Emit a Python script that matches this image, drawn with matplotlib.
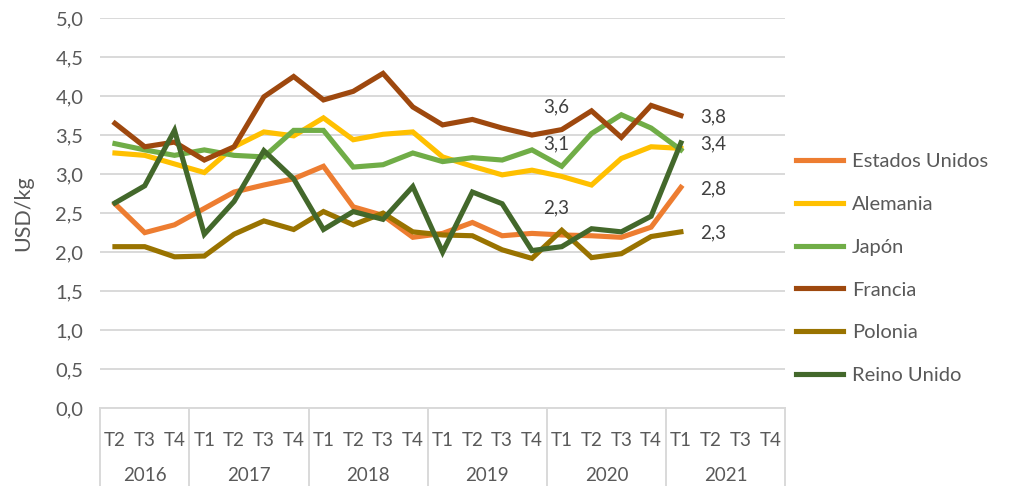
import matplotlib.pyplot as plt
from matplotlib.transforms import blended_transform_factory

plt.rcParams['font.family'] = ['Lato', 'DejaVu Sans']

years = ['2016', '2017', '2018', '2019', '2020', '2021']
quarters = ['T2', 'T3', 'T4'] + ['T1', 'T2', 'T3', 'T4'] * 5

estados_unidos = [2.62, 2.25, 2.35, 2.56, 2.77, 2.86, 2.94, 3.10, 2.58, 2.47, 2.19, 2.24,
                  2.38, 2.21, 2.24, 2.22, 2.21, 2.19, 2.32, 2.83]
alemania = [3.27, 3.24, 3.13, 3.02, 3.35, 3.54, 3.49, 3.72, 3.44, 3.51, 3.54, 3.22,
            3.10, 2.99, 3.05, 2.97, 2.86, 3.20, 3.35, 3.33]
japon = [3.39, 3.31, 3.24, 3.31, 3.24, 3.22, 3.56, 3.56, 3.09, 3.12, 3.27, 3.16,
         3.21, 3.18, 3.31, 3.10, 3.52, 3.76, 3.59, 3.31]
francia = [3.65, 3.35, 3.41, 3.18, 3.35, 3.99, 4.25, 3.95, 4.06, 4.29, 3.86, 3.63,
           3.70, 3.59, 3.50, 3.57, 3.81, 3.47, 3.88, 3.75]
polonia = [2.07, 2.07, 1.94, 1.95, 2.23, 2.40, 2.29, 2.52, 2.35, 2.50, 2.26, 2.22,
           2.21, 2.03, 1.92, 2.28, 1.93, 1.98, 2.20, 2.26]
reino_unido = [2.63, 2.85, 3.56, 2.23, 2.65, 3.30, 2.94, 2.29, 2.52, 2.42, 2.84, 2.00,
               2.77, 2.62, 2.02, 2.07, 2.30, 2.26, 2.46, 3.40]

series = [
    ('Estados Unidos', estados_unidos, '#ED7D31'),
    ('Alemania', alemania, '#FFC000'),
    ('Japón', japon, '#70AD47'),
    ('Francia', francia, '#9E480E'),
    ('Polonia', polonia, '#997300'),
    ('Reino Unido', reino_unido, '#43682B'),
]

gray = '#595959'
fig = plt.figure(figsize=(10.21, 4.86), dpi=100)
ax = fig.add_axes([0.098, 0.160, 0.671, 0.803])

x = list(range(len(estados_unidos)))
lines = {}
for name, vals, col in series:
    ax.plot(x, vals, color=col, lw=3.7, label=name, solid_joinstyle='miter')
    lines[name] = vals

ax.set_xlim(-0.5, len(quarters) - 0.5)
ax.set_ylim(0, 5)
ax.set_yticks([i * 0.5 for i in range(11)])
ax.set_yticklabels([f'{i * 0.5:.1f}'.replace('.', ',') for i in range(11)],
                   fontsize=14.5, color=gray)
ax.yaxis.grid(True, color='#D9D9D9', lw=1.4)
ax.set_axisbelow(True)
for s in ['top', 'right', 'left']:
    ax.spines[s].set_visible(False)
ax.spines['bottom'].set_color('#D9D9D9')
ax.spines['bottom'].set_linewidth(1.4)
ax.tick_params(axis='y', length=0, pad=12)
ax.tick_params(axis='x', length=0, pad=17)
ax.set_xticks(range(len(quarters)))
ax.set_xticklabels(quarters, fontsize=13.5, color=gray)
ax.set_ylabel('USD/kg', fontsize=15.5, color=gray, labelpad=16)

# year groups and separators
trans = blended_transform_factory(ax.transData, ax.transAxes)
start = -0.5
counts = [3, 4, 4, 4, 4, 4]
ax.plot([start, start], [0, -0.2], color='#D9D9D9', lw=1.4, transform=trans, clip_on=False)
for yr, n in zip(years, counts):
    end = start + n
    ax.plot([end, end], [0, -0.2], color='#D9D9D9', lw=1.4, transform=trans, clip_on=False)
    ax.text((start + end) / 2, -0.172, yr, transform=trans, ha='center', va='center',
            fontsize=13.5, color=gray)
    start = end

# data labels
lab_color = '#404040'
for name in ['Francia', 'Japón', 'Polonia']:
    v = lines[name][15]
    ax.annotate(f'{v:.1f}'.replace('.', ','), (15, v), xytext=(-4, 16),
                textcoords='offset points', ha='center', va='center',
                fontsize=13.5, color=lab_color)
for name in ['Francia', 'Reino Unido', 'Estados Unidos', 'Polonia']:
    v = lines[name][19]
    ax.annotate(f'{v:.1f}'.replace('.', ','), (19, v), xytext=(14, -1),
                textcoords='offset points', ha='left', va='center',
                fontsize=13.5, color=lab_color)

ax.legend(loc='center left', bbox_to_anchor=(0.99, 0.358), frameon=False,
          fontsize=14.5, handlelength=2.3, handletextpad=0.45, labelspacing=1.28,
          labelcolor=gray)

fig.savefig('out.png', dpi=100)
